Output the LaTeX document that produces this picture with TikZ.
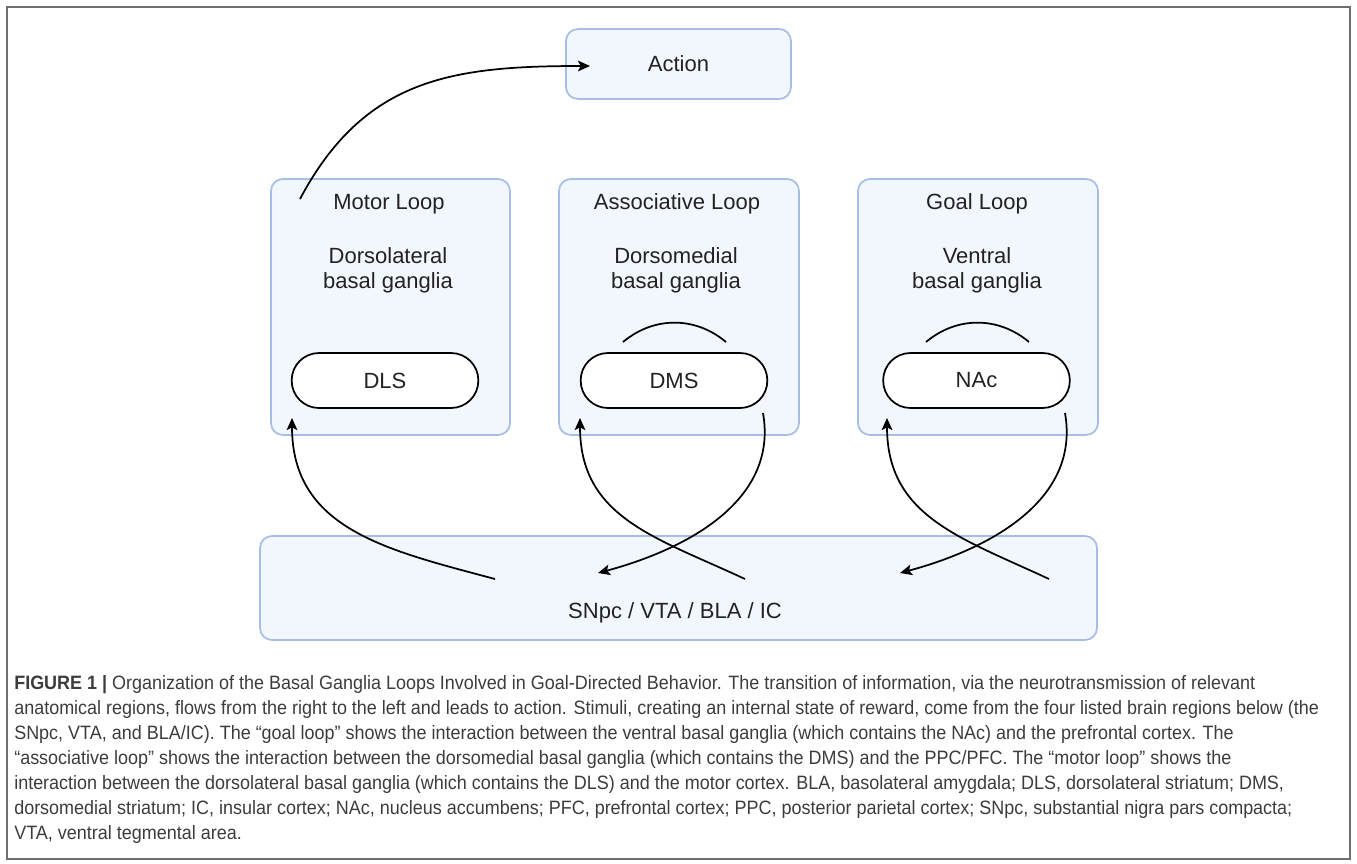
\documentclass[tikz,border=0pt]{standalone}
\usepackage{fontspec}
\setmainfont{Liberation Sans}
\newfontfamily\capfont[FakeStretch=0.93]{Liberation Sans}
\usetikzlibrary{arrows.meta,positioning}
\definecolor{loopfill}{HTML}{F2F7FD}
\definecolor{loopline}{HTML}{A6BEE6}
\definecolor{ink}{HTML}{222222}
\definecolor{capink}{HTML}{3C3C3C}
\definecolor{framegray}{HTML}{6E6E6E}

\begin{document}
\begin{tikzpicture}[x=0.75pt, y=0.75pt,
  loop/.style={draw=loopline, line width=1.3pt, fill=loopfill, rounded corners=9pt, inner sep=0pt},
  pill/.style={draw=black, line width=1.3pt, fill=white, rounded corners=20.5pt, minimum width=140pt, minimum height=41.25pt, inner sep=0pt, text=ink, font=\fontsize{16.5}{19}\selectfont},
  lbl/.style={text=ink, font=\fontsize{16.5}{19}\selectfont, align=center, inner sep=0pt},
  arr/.style={line width=1.3pt, -{Stealth[length=9pt,width=8pt,inset=2pt]}},
  hump/.style={line width=1.3pt},
  captext/.style={text=capink, font=\capfont\fontsize{14.5}{18.75}\selectfont, align=left, inner sep=0pt, anchor=north west}
]
\useasboundingbox (0,0) rectangle (1357,-864);
\draw[framegray, line width=0.8pt] (7,-7) rectangle (1350,-859);

% boxes
\node[loop, minimum width=168.75pt, minimum height=52.5pt] (act) at (678.5,-64) {};
\node[loop, minimum width=179.25pt, minimum height=192pt] (motor) at (390.5,-307) {};
\node[loop, minimum width=180pt, minimum height=192pt] (assoc) at (679,-307) {};
\node[loop, minimum width=180pt, minimum height=192pt] (goal) at (978,-307) {};
\node[loop, minimum width=627.75pt, minimum height=78pt] (src) at (678.5,-588) {};

% labels
\node[lbl] (actT) at (act) {Action};
\node[lbl] (motorT) at (389,-204) {Motor Loop};
\node[lbl] (assocT) at (677,-204) {Associative Loop};
\node[lbl] (goalT) at (977,-204) {Goal Loop};
\node[lbl] (motorS) at (388,-270) {Dorsolateral\\basal ganglia};
\node[lbl] (assocS) at (676,-270) {Dorsomedial\\basal ganglia};
\node[lbl] (goalS) at (977,-270) {Ventral\\basal ganglia};
\node[lbl] (srcT) at (675,-613) {SNpc / VTA / BLA / IC};

% striatum
\node[pill] (dls) at (385,-380.5) {DLS};
\node[pill] (dms) at (674,-380.5) {DMS};
\node[pill] (nac) at (976.5,-380.5) {NAc};

% arrow ends
\coordinate (mOut) at (300,-199);
\coordinate (aIn) at (590,-66);
\coordinate (m0) at (495,-579);
\coordinate (m1) at (292,-418);
\coordinate (d0) at (745,-579);
\coordinate (d1) at (580,-418);
\coordinate (d2) at (763,-413);
\coordinate (d3) at (598,-573);
\coordinate (n0) at (1049,-579);
\coordinate (n1) at (887,-418);
\coordinate (n2) at (1065,-413);
\coordinate (n3) at (900,-573);
\coordinate (h0) at (623,-342);
\coordinate (h1) at (726,-342);
\coordinate (h2) at (926,-342);
\coordinate (h3) at (1029,-342);

\draw[arr] (mOut) to[out=62, in=180, looseness=1.1] (aIn);
\draw[arr] (m0) to[out=165, in=-90, looseness=1.1] (m1);
\draw[arr] (d0) to[out=155, in=-90, looseness=1.1] (d1);
\draw[arr] (d2) to[out=-80, in=15] (d3);
\draw[arr] (n0) to[out=155, in=-90, looseness=1.1] (n1);
\draw[arr] (n2) to[out=-80, in=15] (n3);
\draw[hump] (h0) to[out=40, in=140] (h1);
\draw[hump] (h2) to[out=40, in=140] (h3);

% caption
\node[captext] (cap) at (14,-675) {\textbf{FIGURE 1 |} Organization of the Basal Ganglia Loops Involved in Goal-Directed Behavior. The transition of information, via the neurotransmission of relevant\\
anatomical regions, flows from the right to the left and leads to action. Stimuli, creating an internal state of reward, come from the four listed brain regions below (the\\
SNpc, VTA, and BLA/IC). The “goal loop” shows the interaction between the ventral basal ganglia (which contains the NAc) and the prefrontal cortex. The\\
“associative loop” shows the interaction between the dorsomedial basal ganglia (which contains the DMS) and the PPC/PFC. The “motor loop” shows the\\
interaction between the dorsolateral basal ganglia (which contains the DLS) and the motor cortex. BLA, basolateral amygdala; DLS, dorsolateral striatum; DMS,\\
dorsomedial striatum; IC, insular cortex; NAc, nucleus accumbens; PFC, prefrontal cortex; PPC, posterior parietal cortex; SNpc, substantial nigra pars compacta;\\
VTA, ventral tegmental area.};
\end{tikzpicture}
\end{document}
